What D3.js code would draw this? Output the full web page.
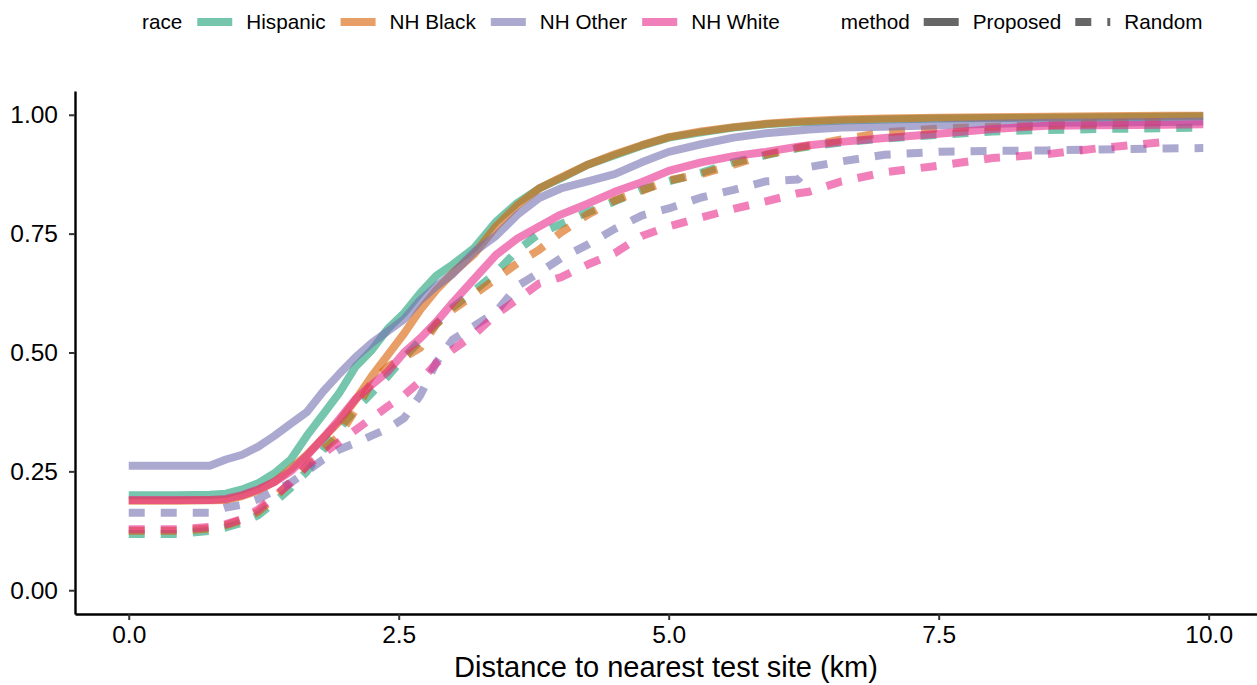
<!DOCTYPE html>
<html>
<head>
<meta charset="utf-8">
<script src="https://cdn.jsdelivr.net/npm/d3@7"></script>
<style>
  body { margin: 0; background: #fff; }
  svg { display: block; font-family: "Liberation Sans", Arial, Helvetica, sans-serif; }
</style>
</head>
<body>
<script>
// distance grid (km) shared by all curves
const dist = [0, 0.45, 0.75, 0.9, 1.05, 1.2, 1.35, 1.5, 1.65, 1.8, 1.95, 2.1, 2.25, 2.4, 2.55, 2.7, 2.85, 3.0, 3.2, 3.4,
  3.6, 3.8, 4.0, 4.25, 4.5, 4.75, 5.0, 5.3, 5.6, 5.9, 6.2, 6.3, 6.6, 7.0, 7.5, 8.0, 8.5, 9.0, 9.6, 9.95];

const races = ['Hispanic', 'NH Black', 'NH Other', 'NH White'];
const methods = ['Proposed', 'Random'];
const raceColors = ['#1b9e77', '#d95f02', '#7570b3', '#e7298a'];

// cumulative share by distance
const hispanicProposed = [0.200, 0.200, 0.201, 0.203, 0.212, 0.225, 0.246, 0.275, 0.325, 0.370, 0.415, 0.470, 0.505, 0.550,
  0.583, 0.625, 0.662, 0.685, 0.720, 0.775, 0.815, 0.845, 0.866, 0.895, 0.915, 0.935, 0.952, 0.963, 0.973, 0.980,
  0.984, 0.985, 0.988, 0.990, 0.992, 0.993, 0.994, 0.995, 0.996, 0.997];
const hispanicRandom = [0.118, 0.118, 0.125, 0.132, 0.142, 0.158, 0.185, 0.215, 0.250, 0.295, 0.340, 0.380, 0.415, 0.450,
  0.490, 0.525, 0.560, 0.595, 0.630, 0.668, 0.715, 0.750, 0.770, 0.795, 0.818, 0.842, 0.860, 0.878, 0.900, 0.915,
  0.930, 0.933, 0.942, 0.950, 0.958, 0.965, 0.968, 0.970, 0.972, 0.973];
const blackProposed = [0.188, 0.188, 0.189, 0.190, 0.198, 0.210, 0.228, 0.255, 0.285, 0.320, 0.355, 0.400, 0.450, 0.495,
  0.540, 0.590, 0.632, 0.667, 0.707, 0.765, 0.810, 0.845, 0.868, 0.895, 0.917, 0.936, 0.953, 0.965, 0.974, 0.981,
  0.986, 0.987, 0.990, 0.992, 0.994, 0.995, 0.996, 0.997, 0.998, 0.998];
const blackRandom = [0.125, 0.125, 0.130, 0.137, 0.148, 0.165, 0.195, 0.228, 0.262, 0.295, 0.325, 0.380, 0.437, 0.470,
  0.490, 0.510, 0.560, 0.590, 0.622, 0.655, 0.688, 0.716, 0.752, 0.790, 0.820, 0.840, 0.862, 0.875, 0.895, 0.916,
  0.931, 0.935, 0.948, 0.963, 0.971, 0.975, 0.978, 0.982, 0.985, null];
const otherProposed = [0.262, 0.262, 0.262, 0.275, 0.285, 0.302, 0.325, 0.350, 0.375, 0.418, 0.455, 0.490, 0.520, 0.545,
  0.570, 0.610, 0.640, 0.665, 0.712, 0.745, 0.790, 0.825, 0.845, 0.860, 0.875, 0.900, 0.922, 0.938, 0.952, 0.961,
  0.967, 0.969, 0.973, 0.975, 0.978, 0.981, 0.983, 0.984, 0.985, 0.986];
const otherRandom = [0.163, 0.163, 0.163, 0.174, 0.180, 0.192, 0.210, 0.226, 0.250, 0.275, 0.296, 0.310, 0.325, 0.340,
  0.362, 0.410, 0.480, 0.527, 0.556, 0.585, 0.640, 0.668, 0.698, 0.727, 0.760, 0.788, 0.803, 0.826, 0.842, 0.860,
  0.864, 0.890, 0.902, 0.916, 0.922, 0.924, 0.925, 0.927, 0.929, 0.930];
const whiteProposed = [0.190, 0.190, 0.190, 0.192, 0.200, 0.212, 0.228, 0.250, 0.283, 0.320, 0.360, 0.402, 0.432, 0.460,
  0.500, 0.530, 0.565, 0.605, 0.655, 0.705, 0.740, 0.765, 0.790, 0.813, 0.838, 0.858, 0.882, 0.900, 0.913, 0.922,
  0.933, 0.936, 0.943, 0.951, 0.960, 0.970, 0.977, 0.978, 0.979, 0.980];
const whiteRandom = [0.128, 0.128, 0.133, 0.139, 0.150, 0.170, 0.198, 0.226, 0.262, 0.287, 0.312, 0.337, 0.362, 0.387,
  0.410, 0.440, 0.478, 0.506, 0.538, 0.580, 0.612, 0.645, 0.658, 0.685, 0.709, 0.745, 0.765, 0.784, 0.802, 0.818,
  0.835, 0.838, 0.860, 0.879, 0.893, 0.909, 0.917, 0.930, 0.943, null];

const xTicks = [0, 2.5, 5, 7.5, 10];
const yTicks = [0, 0.25, 0.5, 0.75, 1];

// group order like ggplot: race then method
const series = [
  {race: 'Hispanic', method: 'Proposed', values: hispanicProposed},
  {race: 'Hispanic', method: 'Random', values: hispanicRandom},
  {race: 'NH Black', method: 'Proposed', values: blackProposed},
  {race: 'NH Black', method: 'Random', values: blackRandom},
  {race: 'NH Other', method: 'Proposed', values: otherProposed},
  {race: 'NH Other', method: 'Random', values: otherRandom},
  {race: 'NH White', method: 'Proposed', values: whiteProposed},
  {race: 'NH White', method: 'Random', values: whiteRandom}
];

const W = 1257, H = 685;
const margin = {top: 91, right: 0, bottom: 71, left: 75};

const svg = d3.select('body').append('svg')
  .attr('width', W)
  .attr('height', H);

const color = d3.scaleOrdinal().domain(races).range(raceColors);
const dashes = d3.scaleOrdinal().domain(methods).range([null, '16,16']);

// ggplot style 5% expansion
const xMax = 9.95;
const xScale = d3.scaleLinear()
  .domain([-0.05 * xMax, xMax * 1.05])
  .range([margin.left, W - margin.right]);
const yScale = d3.scaleLinear()
  .domain([-0.05, 1.05])
  .range([H - margin.bottom, margin.top]);

const line = d3.line()
  .defined(d => d[1] != null)
  .x(d => xScale(d[0]))
  .y(d => yScale(d[1]));

svg.append('g')
  .selectAll('path')
  .data(series)
  .enter()
  .append('path')
  .attr('d', d => line(dist.map((x, i) => [x, d.values[i]])))
  .attr('fill', 'none')
  .attr('stroke', d => color(d.race))
  .attr('stroke-opacity', 0.6)
  .attr('stroke-width', 8)
  .attr('stroke-linejoin', 'round')
  .attr('stroke-dasharray', d => dashes(d.method));

// axes
let xAxis = svg.append('g')
  .attr('transform', 'translate(0,' + (H - margin.bottom) + ')')
  .call(d3.axisBottom(xScale).tickValues(xTicks).tickFormat(d3.format('.1f')).tickSize(6).tickSizeOuter(0).tickPadding(6));

let yAxis = svg.append('g')
  .attr('transform', 'translate(' + margin.left + ',0)')
  .call(d3.axisLeft(yScale).tickValues(yTicks).tickFormat(d3.format('.2f')).tickSize(6).tickSizeOuter(0).tickPadding(11));

[xAxis, yAxis].forEach(ax => {
  ax.select('.domain').attr('stroke', '#000').attr('stroke-width', 2.4);
  ax.selectAll('.tick line').attr('stroke', '#333').attr('stroke-width', 2);
  ax.selectAll('.tick text')
    .attr('fill', '#000')
    .style('font-size', '24.5px')
    .style('font-family', '"Liberation Sans", Arial, sans-serif');
});

// x label
svg.append('text')
  .attr('x', (margin.left + W - margin.right) / 2)
  .attr('y', 677)
  .attr('text-anchor', 'middle')
  .style('font-size', '29px')
  .text('Distance to nearest test site (km)');

// legend on top
const legend = svg.append('g').attr('class', 'legend');
const legY = 22;
let lx = 142;

function addText(txt) {
  let t = legend.append('text')
    .attr('x', lx)
    .attr('y', legY + 7)
    .style('font-size', '20.7px')
    .text(txt);
  lx += t.node().getComputedTextLength();
}

function addKey(stroke, dash) {
  legend.append('line')
    .attr('x1', lx).attr('x2', lx + 35)
    .attr('y1', legY).attr('y2', legY)
    .attr('stroke', stroke)
    .attr('stroke-opacity', 0.6)
    .attr('stroke-width', 8)
    .attr('stroke-dasharray', dash);
  lx += 35;
}

addText('race');
races.forEach(r => {
  lx += 15;
  addKey(color(r), null);
  lx += 14;
  addText(r);
});

lx += 61;
addText('method');
methods.forEach(m => {
  lx += 14;
  addKey('#000', dashes(m));
  lx += 14;
  addText(m);
});
</script>
</body>
</html>
